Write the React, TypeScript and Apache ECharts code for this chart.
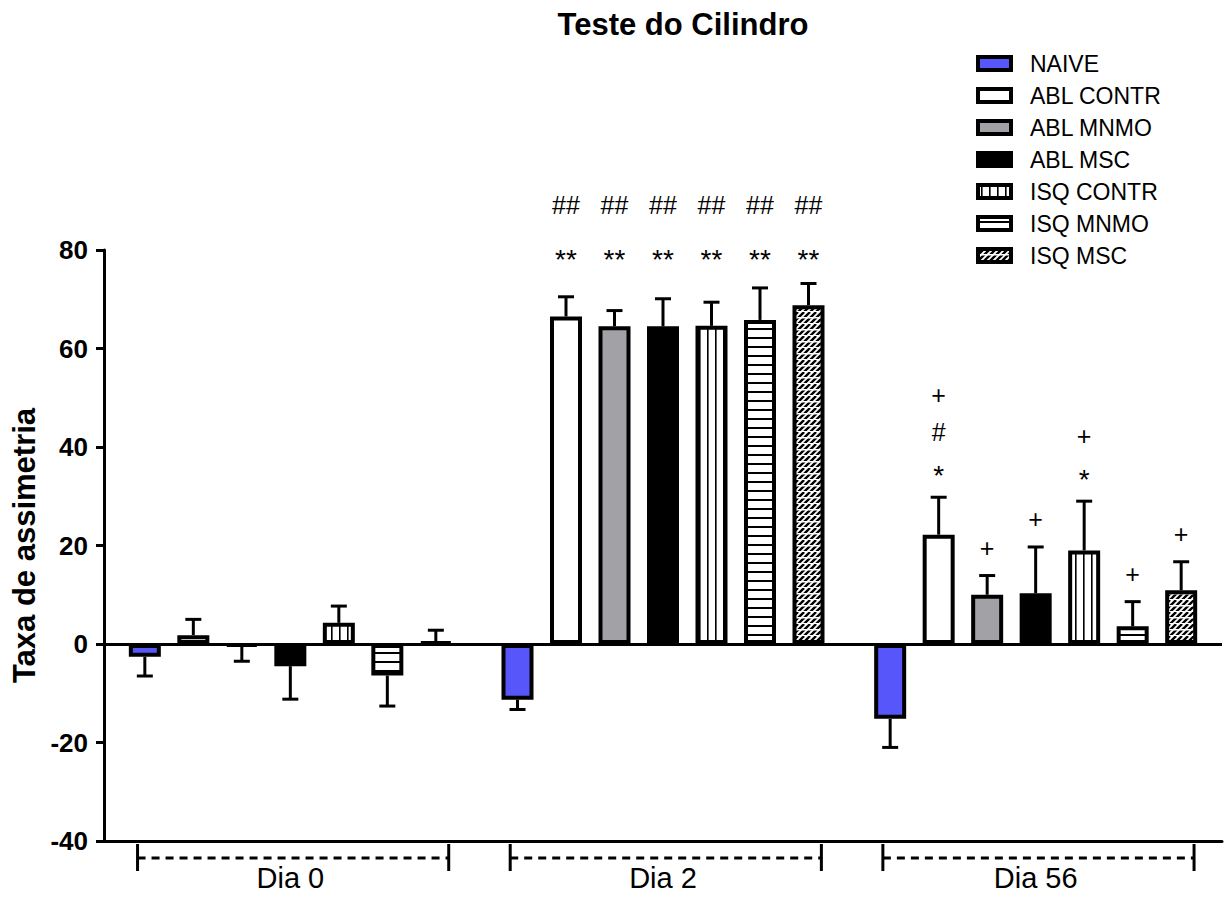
import React, { useEffect, useRef } from 'react';
import * as echarts from 'echarts';

const categories = ['Dia 0', 'Dia 2', 'Dia 56'];
const groupNames = ['NAIVE', 'ABL CONTR', 'ABL MNMO', 'ABL MSC', 'ISQ CONTR', 'ISQ MNMO', 'ISQ MSC'];

// means per group (Dia 0, Dia 2, Dia 56)
const naiveMean = [-2.6, -11.3, -15.2];
const ablContrMean = [1.8, 66.5, 22.2];
const ablMnmoMean = [-0.4, 64.5, 10.0];
const ablMscMean = [-4.5, 64.5, 10.3];
const isqContrMean = [4.3, 64.6, 19.0];
const isqMnmoMean = [-6.4, 65.8, 3.6];
const isqMscMean = [0.4, 68.8, 10.9];

// error (SEM) per group
const naiveSem = [3.9, 2.0, 5.8];
const ablContrSem = [3.2, 4.0, 7.6];
const ablMnmoSem = [3.1, 3.2, 3.9];
const ablMscSem = [6.7, 5.6, 9.4];
const isqContrSem = [3.4, 4.8, 10.0];
const isqMnmoSem = [6.2, 6.5, 5.0];
const isqMscSem = [2.4, 4.4, 5.8];

// significance marks, listed bottom to top
const naiveAnn: string[][] = [[], [], []];
const ablContrAnn = [[], ['**', '##'], ['*', '#', '+']];
const ablMnmoAnn = [[], ['**', '##'], ['+']];
const ablMscAnn = [[], ['**', '##'], ['+']];
const isqContrAnn = [[], ['**', '##'], ['*', '+']];
const isqMnmoAnn = [[], ['**', '##'], ['+']];
const isqMscAnn = [[], ['**', '##'], ['+']];

const yMin = -40;
const yMax = 80;
const yStep = 20;

const means = [naiveMean, ablContrMean, ablMnmoMean, ablMscMean, isqContrMean, isqMnmoMean, isqMscMean];
const sems = [naiveSem, ablContrSem, ablMnmoSem, ablMscSem, isqContrSem, isqMnmoSem, isqMscSem];
const anns = [naiveAnn, ablContrAnn, ablMnmoAnn, ablMscAnn, isqContrAnn, isqMnmoAnn, isqMscAnn];

// style constants
const FONT = '"Liberation Sans", Arial, Helvetica, sans-serif';
const BAR_W = 32;
const GAP_PX = 16.5;
const PITCH = BAR_W + GAP_PX;
const annAligned = [false, true, false];
const annFirst = [28, 30, 28];
const annGap = [37, 48, 37];

function makeTile(w: number, h: number, draw: (ctx: CanvasRenderingContext2D) => void) {
  const c = document.createElement('canvas');
  c.width = w;
  c.height = h;
  const ctx = c.getContext('2d') as CanvasRenderingContext2D;
  ctx.fillStyle = '#fff';
  ctx.fillRect(0, 0, w, h);
  draw(ctx);
  return { image: c, repeat: 'repeat', imageWidth: w, imageHeight: h };
}

export default function App() {
  const ref = useRef<HTMLDivElement>(null);
  useEffect(() => {
    document.body.style.margin = '0';
    if (!ref.current) return;
    const chart = echarts.init(ref.current, null, { renderer: 'svg' });

    const vStripe = makeTile(8, 8, (ctx) => {
      ctx.fillStyle = '#000';
      ctx.fillRect(3, 0, 1.6, 8);
    });
    const hStripe = makeTile(9, 9, (ctx) => {
      ctx.fillStyle = '#000';
      ctx.fillRect(0, 4, 9, 2);
    });
    const hatch = makeTile(12, 12, (ctx) => {
      ctx.strokeStyle = '#000';
      ctx.lineWidth = 2.4;
      for (let i = -12; i <= 24; i += 6) {
        ctx.beginPath();
        ctx.moveTo(i, 12);
        ctx.lineTo(i + 12, 0);
        ctx.stroke();
      }
      ctx.fillStyle = '#fff';
      ctx.fillRect(0, 5, 12, 1.5);
      ctx.fillRect(0, 11, 12, 1);
    });

    const fills: any[] = ['#5656FA', '#ffffff', '#A2A1A6', '#000000', vStripe, hStripe, hatch];

    const barSeries = groupNames.map((name, s) => ({
      name,
      type: 'bar',
      data: means[s],
      barWidth: BAR_W,
      barGap: (GAP_PX / BAR_W) * 100 + '%',
      z: 2,
      itemStyle: { color: fills[s], borderColor: '#000', borderWidth: 4 },
      ...(s === 0
        ? {
            markLine: {
              silent: true,
              symbol: ['none', 'none'],
              label: { show: false },
              lineStyle: { color: '#000', width: 3, type: 'solid' },
              data: [{ yAxis: 0 }],
            },
          }
        : {}),
    }));

    const errData: number[][] = [];
    groupNames.forEach((_, s) => {
      categories.forEach((__, c) => {
        errData.push([c, means[s][c], sems[s][c], s]);
      });
    });
    const nS = groupNames.length;

    const errSeries = {
      type: 'custom',
      name: 'err',
      z: 3,
      clip: false,
      encode: { x: 0, y: 1 },
      data: errData,
      renderItem: (params: any, api: any) => {
        const c = api.value(0);
        const v = api.value(1);
        const e = api.value(2);
        const s = api.value(3);
        const cx = api.coord([c, 0])[0];
        const x = cx + (s - (nS - 1) / 2) * PITCH;
        const y0 = api.coord([c, v])[1];
        const tipV = v >= 0 ? v + e : v - e;
        const y1 = api.coord([c, tipV])[1];
        const children: any[] = [
          { type: 'line', shape: { x1: x, y1: y0, x2: x, y2: y1 }, style: { stroke: '#000', lineWidth: 3 } },
          { type: 'line', shape: { x1: x - 8, y1: y1, x2: x + 8, y2: y1 }, style: { stroke: '#000', lineWidth: 3 } },
        ];
        const ann = anns[s][c];
        if (ann.length) {
          let anchor = y1;
          if (annAligned[c]) {
            anchor = Math.min(
              ...means.map((m, i) => api.coord([c, m[c] >= 0 ? m[c] + sems[i][c] : m[c] - sems[i][c]])[1])
            );
          }
          ann.forEach((t, k) => {
            const isStar = t.charAt(0) === '*';
            children.push({
              type: 'text',
              style: {
                text: t,
                x,
                y: anchor - annFirst[c] - k * annGap[c] + (isStar ? 6 : 0),
                align: 'center',
                verticalAlign: 'middle',
                font: `${isStar ? 28 : 25}px ${FONT}`,
                fill: '#000',
              },
            });
          });
        }
        return { type: 'group', children };
      },
    };

    const bracketSeries = {
      type: 'custom',
      name: 'brackets',
      clip: false,
      silent: true,
      encode: { x: 0, y: 1 },
      data: categories.map((_, c) => [c, yMin]),
      renderItem: (params: any, api: any) => {
        const p = api.coord([api.value(0), api.value(1)]);
        const band = api.size([1, 0])[0];
        const xl = p[0] - band * 0.41;
        const xr = p[0] + band * 0.425;
        const y = p[1];
        const st = { stroke: '#000', lineWidth: 3 };
        return {
          type: 'group',
          children: [
            { type: 'line', shape: { x1: xl, y1: y + 3, x2: xl, y2: y + 30 }, style: st },
            { type: 'line', shape: { x1: xr, y1: y + 3, x2: xr, y2: y + 30 }, style: st },
            {
              type: 'line',
              shape: { x1: xl, y1: y + 17, x2: xr, y2: y + 17 },
              style: { stroke: '#000', lineWidth: 3, lineDash: [8, 6] },
            },
          ],
        };
      },
    };

    const option: any = {
      animation: false,
      backgroundColor: '#fff',
      title: {
        text: 'Teste do Cilindro',
        left: 678,
        top: 4,
        textAlign: 'center',
        textStyle: { fontSize: 31, fontWeight: 'bold', color: '#000', fontFamily: FONT },
      },
      legend: {
        orient: 'vertical',
        left: 971,
        top: 47,
        data: groupNames,
        icon: 'rect',
        itemWidth: 33,
        itemHeight: 13,
        itemGap: 9,
        itemStyle: { borderColor: '#000', borderWidth: 4 },
        textStyle: { fontSize: 23, lineHeight: 22, color: '#000', fontFamily: FONT, padding: [0, 0, 0, 14] },
      },
      grid: { left: 104, right: 3, top: 250, bottom: 58, containLabel: false },
      xAxis: {
        type: 'category',
        data: categories,
        axisLine: { onZero: false, lineStyle: { color: '#000', width: 3 } },
        axisTick: { show: false },
        axisLabel: { color: '#000', fontSize: 29, fontFamily: FONT, margin: 22 },
        splitLine: { show: false },
      },
      yAxis: {
        type: 'value',
        min: yMin,
        max: yMax,
        interval: yStep,
        name: 'Taxa de assimetria',
        nameLocation: 'middle',
        nameGap: 62,
        nameRotate: 90,
        nameTextStyle: { fontSize: 31, fontWeight: 'bold', color: '#000', fontFamily: FONT },
        axisLine: { show: true, lineStyle: { color: '#000', width: 3 } },
        axisTick: { show: true, length: 8, lineStyle: { color: '#000', width: 3 } },
        axisLabel: { color: '#000', fontSize: 26, fontWeight: 'bold', fontFamily: FONT, margin: 16 },
        splitLine: { show: false },
      },
      series: [...barSeries, errSeries, bracketSeries],
    };
    chart.setOption(option);
    return () => chart.dispose();
  }, []);
  return <div ref={ref} style={{ width: 1225, height: 899 }} />;
}
